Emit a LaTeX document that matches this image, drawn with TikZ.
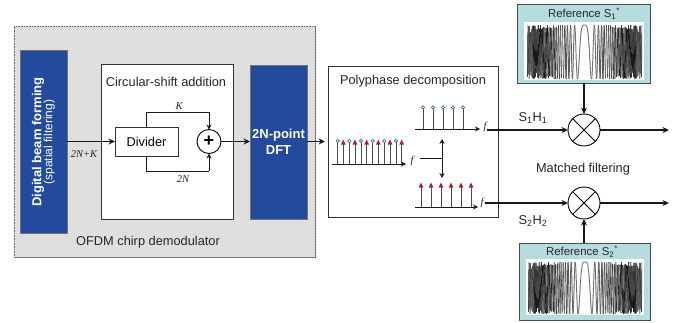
\documentclass[tikz,border=0pt]{standalone}
\usepackage{fontspec}
\setmainfont{Liberation Sans}
\newfontfamily\ital{Liberation Serif}
\usetikzlibrary{arrows.meta,shadows}
\definecolor{panelgray}{HTML}{DFDFDD}
\definecolor{dftblue}{HTML}{234A9C}
\definecolor{reftint}{HTML}{B7DCE0}
\definecolor{stemteal}{HTML}{3E6F78}
\definecolor{stemred}{HTML}{A8202E}
\tikzset{
  boxbase/.style={rectangle,inner sep=0pt,outer sep=0pt,align=center,text=black},
  shadowed/.style={drop shadow={shadow xshift=1.3pt,shadow yshift=-1.3pt,fill=black!65,opacity=.7}},
  whitebox/.style={boxbase,draw=black!80,line width=.6pt,fill=white},
  bluebox/.style={boxbase,draw=black!55,line width=.5pt,fill=dftblue,text=white,font=\fontsize{13}{15.5}\bfseries\selectfont},
  lbl/.style={inner sep=0pt,outer sep=0pt,font=\fontsize{12.8}{15}\selectfont,text=black!85},
  mathlbl/.style={inner sep=0pt,outer sep=0pt,font=\ital\itshape\fontsize{10.5}{12}\selectfont,text=black!85},
  sumcirc/.style={circle,draw=black,line width=.9pt,fill=white,inner sep=0pt,outer sep=0pt,minimum size=#1},
  conn/.style={line width=1.1pt,black!90,-{Stealth[length=6.5pt,width=6pt]}},
  thin conn/.style={line width=.85pt,black!90,-{Stealth[length=5pt,width=5pt]}},
  plainline/.style={line width=.85pt,black!90},
  stem/.style={line width=.7pt,black!70},
  opendot/.style={circle,draw=stemteal,line width=.7pt,fill=white,inner sep=0pt,minimum size=3.4pt},
  redtip/.style={fill=stemred,draw=none},
}
\newcommand{\redtri}[2]{\fill[redtip] (#1-2.4,#2+3.6) -- (#1,#2-1.4) -- (#1+2.4,#2+3.6) -- cycle;}
\newcommand{\chirpcurve}[4]{%
  \begin{scope}
  \clip (#1,#3-.5) rectangle (#2,#4+.5);
  \pgfmathsetmacro{\cxx}{(#1+#2)/2}
  \pgfmathsetmacro{\hw}{(#2-#1)/2}
  \pgfmathsetmacro{\mdy}{(#3+#4)/2}
  \pgfmathsetmacro{\hh}{(#4-#3)/2}
  \foreach \s in {-240,...,239}{
    \pgfmathsetmacro{\ua}{\s/240}
    \pgfmathsetmacro{\ub}{(\s+1)/240}
    \pgfmathsetmacro{\ya}{\mdy-\hh*cos(12240*\ua*\ua)}
    \pgfmathsetmacro{\yb}{\mdy-\hh*cos(12240*\ub*\ub)}
    \pgfmathsetmacro{\au}{abs(\ua)}
    \pgfmathsetmacro{\sh}{\au<.15 ? 55 : (\au<.6 ? 55+(\au-.15)*70 : (\au<.9 ? 90 : 75))}
    \pgfmathsetmacro{\lw}{\au<.35 ? 0.95 : 0.6}
    \draw[black!\sh,line width=\lw pt] ({\cxx+\hw*\ua},\ya) -- ({\cxx+\hw*\ub},\yb);
  }
  \end{scope}}
\begin{document}
\begin{tikzpicture}[x=1pt,y=-1pt]
\useasboundingbox (0,0) rectangle (682,322);
\fill[white] (0,0) rectangle (682,322);

% demodulator panel
\node[boxbase,draw=black!60,densely dotted,line width=.6pt,fill=panelgray,shadowed,minimum width=301pt,minimum height=231pt] (panel) at (164.5,141.5) {};
\node[lbl] (paneltitle) at (148,242) {OFDM chirp demodulator};

% digital beam forming
\node[bluebox,shadowed,minimum width=47pt,minimum height=183pt] (dbf) at (43.5,141.5) {};
\node[rotate=90,inner sep=0pt,align=center,text=white] (dbftext) at (43.5,142)
  {{\fontsize{13}{15}\bfseries\selectfont Digital beam forming}\\[-1pt]{\fontsize{12}{13}\selectfont (spatial filtering)}};

% circular shift addition
\node[whitebox,shadowed,minimum width=132pt,minimum height=155pt] (csa) at (167,141.5) {};
\node[lbl] (csatitle) at (166,82) {Circular-shift addition};
\node[whitebox,minimum width=63pt,minimum height=29pt,font=\fontsize{12.8}{15}\selectfont] (div) at (146.5,141.5) {Divider};
\node[sumcirc=24pt,font=\fontsize{18}{18}\bfseries\selectfont] (plus) at (209,141.5) {+};
\coordinate (kc) at (209,112);
\coordinate (nc) at (209,171);
\draw[plainline] (div.north) |- (kc);
\draw[thin conn] (kc) -- (plus.north);
\draw[plainline] (div.south) |- (nc);
\draw[thin conn] (nc) -- (plus.south);
\node[mathlbl] (lk) at (179,106) {K};
\node[mathlbl] (l2n) at (183,179) {2N};
\node[mathlbl] (l2nk) at (84,154) {2N+K};

% DFT
\node[bluebox,shadowed,minimum width=57pt,minimum height=154pt] (dft) at (278.5,142) {2N-point\\DFT};

% polyphase
\node[whitebox,shadowed,minimum width=170pt,minimum height=151pt] (poly) at (413,141.5) {};
\node[lbl] (polytitle) at (413,81) {Polyphase decomposition};

\draw[conn] (dbf.east |- div.west) -- (div.west);
\draw[conn] (plus.east) -- (dft.west |- plus.east);
\draw[conn,shorten >=3pt] (dft.east |- plus.east) -- (poly.west |- plus.east);

% left comb
\coordinate (la) at (332,164);
\coordinate (lb) at (406,164);
\draw[thin conn] (la) -- (lb);
\foreach \i/\xx in {0/337.7,1/343.3,2/349.3,3/355,4/361,5/366.7,6/372.7,7/378.3,8/384.3,9/390,10/396,11/401.7}{
  \draw[stem] (\xx,164) -- (\xx,142);
  \pgfmathparse{int(mod(\i,2))}
  \ifnum\pgfmathresult=0
    \node[opendot] (lc\i) at (\xx,141) {};
  \else
    \redtri{\xx}{141}
  \fi
}
\node[mathlbl] (fl) at (412,161) {f};

% upper comb
\coordinate (ua) at (415,129);
\coordinate (ub) at (480,129);
\draw[thin conn] (ua) -- (ub);
\foreach \i/\xx in {0/423,1/433,2/443,3/453,4/463}{
  \draw[stem] (\xx,129) -- (\xx,109);
  \node[opendot] (uc\i) at (\xx,107.5) {};
}
\node[mathlbl] (fu) at (485,127) {f};

% lower comb
\coordinate (da) at (415,207);
\coordinate (db) at (478,207);
\draw[thin conn] (da) -- (db);
\foreach \xx in {421,431,441,451,461,471}{
  \draw[stem] (\xx,207) -- (\xx,185);
  \redtri{\xx}{184}
}
\node[mathlbl] (fd) at (482,203) {f};

% branch
\coordinate (bs) at (420,158);
\coordinate (bj) at (442,158);
\coordinate (bu) at (442,139);
\coordinate (bd) at (442,178);
\draw[plainline] (bs) -- (bj);
\draw[thin conn] (bj) -- (bu);
\draw[thin conn] (bj) -- (bd);

% multipliers
\node[sumcirc=32pt] (m1) at (584,130) {};
\node[sumcirc=32pt] (m2) at (584,203) {};
\foreach \m in {m1,m2}{
  \draw[line width=.9pt] (\m.45) -- (\m.225);
  \draw[line width=.9pt] (\m.135) -- (\m.315);
}
\coordinate (o1) at (669,130);
\coordinate (o2) at (669,203);
\draw[conn] (fu.east |- m1.west) ++(1,0) -- (m1.west);
\draw[conn] (fd.east |- m2.west) ++(2,0) -- (m2.west);
\draw[conn] (m1.east) -- (o1);
\draw[conn] (m2.east) -- (o2);
\node[lbl] (s1h1) at (533,118) {S\textsubscript{1}H\textsubscript{1}};
\node[lbl] (s2h2) at (533,221) {S\textsubscript{2}H\textsubscript{2}};
\node[lbl] (mf) at (583,169) {Matched filtering};

% reference 1
\node[boxbase,draw=black!70,line width=.5pt,fill=reftint,shadowed,minimum width=133pt,minimum height=79pt] (r1) at (583.5,43.5) {};
\node[lbl,font=\fontsize{11.4}{13}\selectfont] (r1t) at (584,14) {Reference S\textsubscript{1}\textsuperscript{*}};
\node[boxbase,fill=white,minimum width=120pt,minimum height=58pt] (r1w) at (584,51) {};
\chirpcurve{527}{642}{25}{79}
\draw[conn] (r1.south -| m1.north) -- (m1.north);

% reference 2
\node[boxbase,draw=black!70,line width=.5pt,fill=reftint,shadowed,minimum width=131pt,minimum height=77pt] (r2) at (584.5,281.5) {};
\node[lbl,font=\fontsize{11.4}{13}\selectfont] (r2t) at (582,252) {Reference S\textsubscript{2}\textsuperscript{*}};
\node[boxbase,fill=white,minimum width=118pt,minimum height=56pt] (r2w) at (585,287) {};
\chirpcurve{528}{642}{262}{314}
\draw[conn] (r2.north -| m2.south) -- (m2.south);
\end{tikzpicture}
\end{document}
